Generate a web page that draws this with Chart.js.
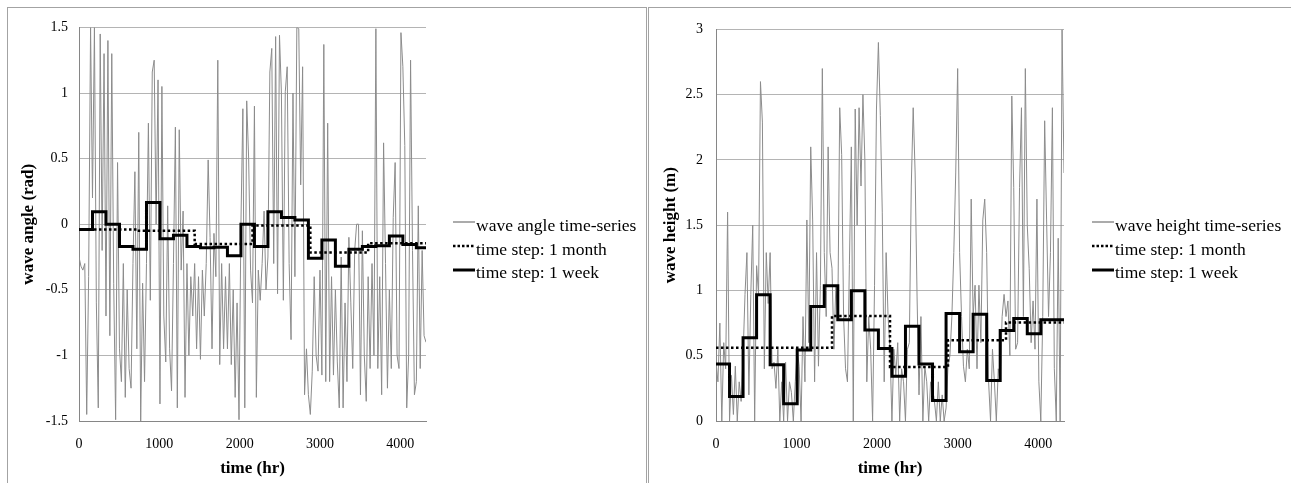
<!DOCTYPE html>
<html>
<head>
<meta charset="utf-8">
<script src="https://cdn.jsdelivr.net/npm/chart.js@4.4.0/dist/chart.umd.min.js"></script>
<style>
    body { margin: 0; background: #fff; width: 1291px; height: 483px; overflow: hidden; position: relative;
           font-family: 'Liberation Serif', 'Times New Roman', serif; }
    .panel { position: absolute; top: 7px; height: 520px; border: 1px solid #a3a3a3; box-sizing: border-box; }
    #panelAngle { left: 7px; width: 640px; }
    #panelHeight { left: 648px; width: 700px; }
    canvas { position: absolute; top: 8px; }
    #angleChart { left: 8px; }
    #heightChart { left: 649px; }
    .legend-row { position: absolute; height: 20px; white-space: nowrap; font-size: 17.5px; line-height: 20px; color: #000; }
    .legend-row svg { position: absolute; left: 0; top: 0; }
    .legend-row span { position: absolute; left: 23px; top: 0; }
</style>
</head>
<body>
<div class="panel" id="panelAngle"></div>
<div class="panel" id="panelHeight"></div>
<canvas id="angleChart" width="638" height="475"></canvas>
<canvas id="heightChart" width="642" height="475"></canvas>

<div class="legend-row" style="left:453px; top:215px;">
    <svg width="22" height="20"><line x1="0" y1="7" x2="22" y2="7" stroke="#8f8f8f" stroke-width="1.5"/></svg>
    <span>wave angle time-series</span>
</div>
<div class="legend-row" style="left:453px; top:238.5px;">
    <svg width="22" height="20"><line x1="0" y1="7" x2="22" y2="7" stroke="#000" stroke-width="2.5" stroke-dasharray="2.5 2"/></svg>
    <span>time step: 1 month</span>
</div>
<div class="legend-row" style="left:453px; top:262px;">
    <svg width="22" height="20"><line x1="0" y1="8" x2="22" y2="8" stroke="#000" stroke-width="3"/></svg>
    <span>time step: 1 week</span>
</div>

<div class="legend-row" style="left:1092px; top:215px;">
    <svg width="22" height="20"><line x1="0" y1="7" x2="22" y2="7" stroke="#8f8f8f" stroke-width="1.5"/></svg>
    <span>wave height time-series</span>
</div>
<div class="legend-row" style="left:1092px; top:238.5px;">
    <svg width="22" height="20"><line x1="0" y1="7" x2="22" y2="7" stroke="#000" stroke-width="2.5" stroke-dasharray="2.5 2"/></svg>
    <span>time step: 1 month</span>
</div>
<div class="legend-row" style="left:1092px; top:262px;">
    <svg width="22" height="20"><line x1="0" y1="8" x2="22" y2="8" stroke="#000" stroke-width="3"/></svg>
    <span>time step: 1 week</span>
</div>

<script>
// Time axis (hours); the raw series is read every 24 hr off the picture
const totalHours = 4320;
const seriesStep = 24;
const weekHours = 168;
const monthHours = 720;
const timeTicks = [0, 1000, 2000, 3000, 4000];

// Wave angle (rad)
const angleSeries = [
    -0.25, -0.32, -0.35, -0.3, -1.45, -0.4, 1.5, 0.2, 1.5, -0.6,
    -1.4, 1.45, -0.2, 1.3, -0.7, 1.4, -0.85, 1.3, -0.45, -1.49,
    0.47, -0.95, -1.2, -0.3, -1.32, -0.5, -1.1, -1.25, -0.3, 0.4,
    -0.95, 0.7, -1.5, -0.45, -1.2, -0.3, 0.77, -0.58, 1.16, 1.25,
    0.0, 1.1, -1.37, 1.05, -0.7, -1.05, 0.14, -0.95, -1.27, -0.3,
    0.74, -1.4, 0.72, -0.35, 0.1, -1.32, -0.3, -1.0, -0.4, -0.7,
    -0.3, -0.95, -0.4, -1.03, -0.35, -0.7, -0.3, 0.49, -0.1, -0.95,
    -0.07, -0.4, 1.25, -1.07, -0.3, -0.95, -0.4, -0.95, -0.3, -1.07,
    -0.5, -1.32, -0.6, -1.49, 0.0, 0.88, -1.4, 0.94, 0.5, -0.35,
    -0.6, 0.9, -1.32, -0.35, -0.58, -0.3, 0.1, -0.5, -0.25, 1.16,
    1.34, -0.3, 1.43, -0.53, 1.44, 1.0, -0.58, 1.01, 1.2, -0.3,
    -0.88, 1.0, -0.4, 1.5, 1.49, 0.3, 1.2, -1.3, -0.95, -1.3,
    -1.45, -1.12, -0.4, -1.0, -1.12, -0.35, -1.15, 1.37, -1.2, 0.77,
    -1.2, -0.4, -1.15, -0.5, -1.05, -1.4, -0.25, -1.4, -0.6, -1.2,
    -0.1, -0.6, -1.1, -0.2, 0.0, 0.0, -1.3, -0.05, -1.0, -1.35,
    -0.4, -1.1, -0.3, -1.0, 1.49, -1.1, -0.4, -1.3, 0.62, -0.3,
    -1.25, -0.5, -1.1, 0.05, 0.47, -1.0, -1.1, 1.46, 1.2, 0.6,
    -1.4, -1.0, 1.25, -0.2, -1.3, -1.2, 0.14, -1.1, -0.2, -0.85, -0.9
];
const angleMonthly = [-0.04, -0.05, -0.15, -0.01, -0.215, -0.145];
const angleWeekly = [
    -0.04, 0.095, 0.0, -0.17, -0.19, 0.165, -0.11, -0.085, -0.17, -0.18,
    -0.175, -0.24, 0.0, -0.17, 0.095, 0.052, 0.032, -0.26, -0.12, -0.32,
    -0.19, -0.17, -0.165, -0.09, -0.155, -0.18
];

// Wave height (m)
const heightSeries = [
    0.45, 0.3, 0.75, 0.0, 0.6, 0.4, 1.6, 0.0, 0.35, 0.05,
    0.42, 0.0, 0.3, 0.15, 0.5, 0.97, 1.29, 0.2, 0.97, 1.5,
    0.0, 1.19, 0.97, 2.6, 2.29, 0.4, 1.29, 0.9, 1.29, 0.4,
    0.45, 0.25, 0.55, 0.0, 0.3, 0.0, 0.45, 0.0, 0.3, 0.22,
    0.0, 0.3, 0.55, 0.42, 0.0, 0.8, 0.3, 1.54, 0.6, 2.1,
    1.54, 0.3, 1.29, 0.42, 1.04, 2.7, 1.29, 0.8, 2.1, 1.29,
    1.17, 0.55, 1.04, 0.8, 2.4, 2.04, 0.8, 0.4, 0.3, 1.2,
    2.1, 0.0, 2.39, 1.5, 2.4, 1.8, 2.5, 2.0, 0.3, 0.8,
    0.55, 0.0, 1.04, 2.39, 2.9, 2.34, 1.6, 0.3, 1.29, 0.8,
    0.55, 0.0, 0.55, 0.35, 0.6, 0.0, 0.4, 0.3, 0.0, 0.55,
    0.6, 1.8, 2.4, 1.9, 0.95, 0.2, 0.8, 0.0, 0.42, 0.3,
    0.0, 0.3, 0.25, 0.15, 0.0, 0.3, 0.0, 0.2, 0.0, 0.1,
    0.42, 0.5, 0.8, 1.29, 1.9, 2.7, 1.29, 0.8, 0.42, 0.3,
    0.55, 0.4, 1.7, 0.8, 1.04, 0.4, 1.04, 0.6, 1.54, 1.7,
    1.29, 0.3, 0.0, 0.55, 0.3, 0.0, 0.4, 0.3, 0.8, 0.97,
    0.8, 0.92, 0.5, 2.49, 1.79, 0.55, 0.6, 1.79, 2.4, 0.8,
    2.7, 1.5, 1.17, 0.6, 0.92, 0.55, 1.7, 0.3, 0.0, 0.8,
    2.3, 1.54, 0.8, 1.29, 2.4, 0.4, 0.0, 1.4, 0.0, 3.0, 1.9
];
const heightMonthly = [0.561, 0.561, 0.805, 0.414, 0.618, 0.755];
const heightWeekly = [
    0.436, 0.187, 0.638, 0.967, 0.43, 0.132, 0.544, 0.877, 1.037, 0.776,
    0.997, 0.698, 0.556, 0.342, 0.725, 0.436, 0.157, 0.823, 0.53, 0.817,
    0.31, 0.693, 0.785, 0.668, 0.776, 0.776
];

const fontFamily = "'Liberation Serif', 'Times New Roman', serif";

// Turn a list of values into {x, y} points
function seriesPoints(values, step) {
    return values.map(function(v, i) {
        return { x: i * step, y: v };
    });
}

// Step levels start at k * step and hold until the next one; last one held to the end
function stepPoints(levels, step) {
    const pts = levels.map(function(v, i) {
        return { x: i * step, y: v };
    });
    pts.push({ x: totalHours, y: levels[levels.length - 1] });
    return pts;
}

function makeChart(canvasId, cfg) {
    const ctx = document.getElementById(canvasId);
    return new Chart(ctx, {
        type: 'line',
        data: {
            datasets: [
                {
                    label: cfg.seriesLabel,
                    data: seriesPoints(cfg.series, seriesStep),
                    borderColor: '#8c8c8c',
                    borderWidth: 1,
                    pointRadius: 0,
                    tension: 0,
                    order: 3
                },
                {
                    label: 'time step: 1 month',
                    data: stepPoints(cfg.monthly, monthHours),
                    borderColor: '#000',
                    borderWidth: 2.5,
                    borderDash: [2.5, 2.5],
                    pointRadius: 0,
                    stepped: true,
                    order: 2
                },
                {
                    label: 'time step: 1 week',
                    data: stepPoints(cfg.weekly, weekHours),
                    borderColor: '#000',
                    borderWidth: 3,
                    pointRadius: 0,
                    stepped: true,
                    order: 1
                }
            ]
        },
        options: {
            responsive: false,
            animation: false,
            layout: { padding: { left: 0, top: 12, right: cfg.rightPad, bottom: 2 } },
            plugins: {
                legend: { display: false },
                tooltip: { enabled: false }
            },
            scales: {
                x: {
                    type: 'linear',
                    min: 0,
                    max: totalHours,
                    afterBuildTicks: function(scale) {
                        scale.ticks = timeTicks.map(function(v) { return { value: v }; });
                    },
                    ticks: {
                        maxRotation: 0,
                        autoSkip: false,
                        padding: 15,
                        color: '#000',
                        font: { family: fontFamily, size: 14 },
                        callback: function(value) { return String(value); }
                    },
                    grid: { display: false, drawTicks: false },
                    border: { display: true, color: '#868686', width: 1 },
                    title: {
                        display: true,
                        text: 'time (hr)',
                        color: '#000',
                        font: { family: fontFamily, size: 17, weight: 'bold' },
                        padding: { top: 0, bottom: 2 }
                    },
                    afterFit: function(scale) { scale.height = 60; }
                },
                y: {
                    min: cfg.yMin,
                    max: cfg.yMax,
                    ticks: {
                        stepSize: 0.5,
                        padding: cfg.tickPad,
                        color: '#000',
                        font: { family: fontFamily, size: 14 },
                        callback: function(value) { return String(value); }
                    },
                    grid: { color: '#b4b4b4', drawTicks: false },
                    border: { display: true, color: '#868686', width: 1 },
                    title: {
                        display: true,
                        text: cfg.yTitle,
                        color: '#000',
                        font: { family: fontFamily, size: 17, weight: 'bold' },
                        padding: { top: cfg.titlePad, bottom: 0 }
                    },
                    afterFit: function(scale) { scale.width = cfg.yWidth; }
                }
            }
        }
    });
}

document.addEventListener('DOMContentLoaded', function() {
    makeChart('angleChart', {
        seriesLabel: 'wave angle time-series',
        series: angleSeries,
        monthly: angleMonthly,
        weekly: angleWeekly,
        yMin: -1.5,
        yMax: 1.5,
        yTitle: 'wave angle (rad)',
        yWidth: 71,
        rightPad: 220,
        tickPad: 11,
        titlePad: 10
    });
    makeChart('heightChart', {
        seriesLabel: 'wave height time-series',
        series: heightSeries,
        monthly: heightMonthly,
        weekly: heightWeekly,
        yMin: 0,
        yMax: 3,
        yTitle: 'wave height (m)',
        yWidth: 67,
        rightPad: 227,
        tickPad: 13,
        titlePad: 11
    });
});
</script>
</body>
</html>
